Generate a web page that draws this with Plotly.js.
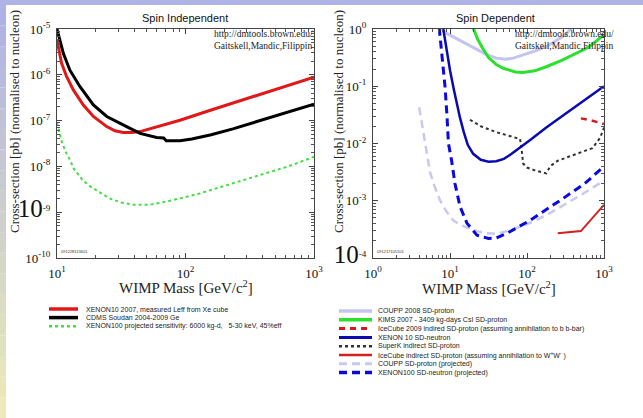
<!DOCTYPE html>
<html><head><meta charset="utf-8">
<script src="https://cdn.plot.ly/plotly-3.0.1.min.js"></script>
<style>html,body{margin:0;padding:0;background:#fff;}#chart{width:643px;height:418px;}</style>
</head><body><div id="chart"></div>
<script>
// ---------- Spin Independent (mass GeV, cross-section pb) ----------
const siXenon10Mass  = [10, 10.86, 11.89, 13.4, 16.03, 19.19, 24.38, 28.2, 32.8, 38.0, 44.3, 63.1, 90.6, 158.5, 316, 562, 1000];
const siXenon10Sigma = [5.75e-6, 1.78e-6, 9.1e-7, 4.68e-7, 2.19e-7, 1.23e-7, 7.4e-8, 6.0e-8, 5.5e-8, 5.5e-8, 5.75e-8, 7.6e-8, 1.02e-7, 1.7e-7, 3.16e-7, 5.37e-7, 8.9e-7];
const siCdmsMass  = [10, 11.2, 12.6, 15.1, 19.2, 24.4, 34.8, 44.3, 59.7, 67.6, 70.8, 90.6, 112, 158.5, 234, 398, 631, 1000];
const siCdmsSigma = [1.0e-5, 2.95e-6, 1.26e-6, 5.5e-7, 2.19e-7, 1.23e-7, 7.4e-8, 5.25e-8, 4.27e-8, 4.17e-8, 3.63e-8, 3.63e-8, 3.98e-8, 4.9e-8, 6.6e-8, 1.05e-7, 1.55e-7, 2.29e-7];
const siXe100Mass  = [10, 10.86, 11.75, 12.6, 13.5, 15.85, 18.2, 21.4, 25.7, 31.6, 39.8, 52.5, 70.8, 100, 129, 234, 427, 631, 1000];
const siXe100Sigma = [8.9e-8, 3.55e-8, 2.0e-8, 1.41e-8, 8.9e-9, 5.0e-9, 3.63e-9, 2.69e-9, 2.0e-9, 1.62e-9, 1.45e-9, 1.45e-9, 1.7e-9, 2.14e-9, 2.57e-9, 4.27e-9, 7.1e-9, 1.0e-8, 1.62e-8];
const siNames = ["XENON10 2007, measured Leff from Xe cube", "CDMS Soudan 2004-2009 Ge", "XENON100 projected sensitivity: 6000 kg-d,   5-30 keV, 45%eff"];

// ---------- Spin Dependent ----------
const sdCouppMass  = [7.59, 8.91, 11.2, 13.5, 17.8, 22.4, 29.5, 39.8, 52.5, 66.1, 89.1, 126, 182, 251, 316, 380];
const sdCouppSigma = [1.05, 0.85, 0.72, 0.63, 0.50, 0.43, 0.36, 0.31, 0.295, 0.31, 0.35, 0.41, 0.50, 0.66, 0.79, 1.05];
const sdKimsMass  = [19.95, 22.9, 26.3, 31.6, 39.8, 50.1, 70.8, 89.1, 126, 178, 282, 447, 631, 1000];
const sdKimsSigma = [1.05, 0.66, 0.47, 0.316, 0.24, 0.204, 0.178, 0.174, 0.186, 0.219, 0.282, 0.38, 0.48, 0.79];
const sdIce09Mass  = [501, 708, 1000];
const sdIce09Sigma = [0.0275, 0.025, 0.0219];
const sdXe10Mass  = [8.13, 9.12, 10, 11.2, 12.3, 13.5, 15.1, 17.0, 20.0, 25.1, 31.6, 39.8, 50.1, 63.1, 110, 178, 316, 562, 1000];
const sdXe10Sigma = [1.05, 0.40, 0.19, 0.089, 0.048, 0.028, 0.0158, 0.0095, 0.0066, 0.0052, 0.0048, 0.0049, 0.0054, 0.0066, 0.0115, 0.019, 0.033, 0.0575, 0.10];
const sdSuperKMass  = [18.2, 25.1, 39.8, 66.1, 81.3, 85.1, 89.1, 100, 126, 178, 200, 251, 316, 501, 708, 891, 1000];
const sdSuperKSigma = [0.026, 0.020, 0.0158, 0.0132, 0.012, 0.0079, 0.00447, 0.0038, 0.0034, 0.0030, 0.0040, 0.0050, 0.0056, 0.0068, 0.0083, 0.0126, 0.019];
const sdIceWWMass  = [251, 501, 1000];
const sdIceWWSigma = [2.7e-4, 2.95e-4, 8.5e-4];
const sdCouppProjMass  = [3.98, 4.37, 4.73, 5.5, 6.31, 7.41, 8.91, 11.0, 13.5, 16.6, 22.4, 30.2, 39.8, 66.1, 112, 178, 316, 501, 1000];
const sdCouppProjSigma = [0.0427, 0.020, 0.010, 0.00316, 0.00178, 0.00102, 6.6e-4, 4.57e-4, 3.8e-4, 3.4e-4, 2.95e-4, 2.7e-4, 2.63e-4, 3.16e-4, 4.17e-4, 5.6e-4, 8.7e-4, 1.26e-3, 2.24e-3];
const sdXe100Mass  = [7.24, 7.94, 8.61, 9.12, 9.55, 10.5, 11.6, 13.5, 16.6, 22.4, 31.6, 39.8, 55, 110, 178, 295, 562, 1000];
const sdXe100Sigma = [1.05, 0.316, 0.1, 0.0316, 0.01, 0.005, 0.002, 7.9e-4, 4.07e-4, 2.5e-4, 2.19e-4, 2.24e-4, 2.7e-4, 4.57e-4, 6.9e-4, 1.1e-3, 2.0e-3, 3.98e-3];
const sdNames = ["COUPP 2008 SD-proton", "KIMS 2007 - 3409 kg-days CsI SD-proton", "IceCube 2009 indired SD-proton (assuming annihilation to b b-bar)", "XENON 10 SD-neutron", "SuperK indirect SD-proton", "IceCube indirect SD-proton (assuming annihilation to W<sup>+</sup>W<sup>-</sup> )", "COUPP SD-proton (projected)", "XENON100 SD-neutron (projected)"];

// tick labels
const siXTicks = [10, 100, 1000];
const siXText = ["10<sup>1</sup>", "10<sup>2</sup>", "10<sup>3</sup>"];
const siYTicks = [1e-10, 1e-9, 1e-8, 1e-7, 1e-6, 1e-5];
const siYText = ["10<sup>-10</sup>", "<span style='font-size:25px'>10</span><sup>-9</sup>", "10<sup>-8</sup>", "10<sup>-7</sup>", "10<sup>-6</sup>", "10<sup>-5</sup>"];
const sdXTicks = [1, 10, 100, 1000];
const sdXText = ["10<sup>0</sup>", "10<sup>1</sup>", "10<sup>2</sup>", "10<sup>3</sup>"];
const sdYTicks = [1e-4, 1e-3, 1e-2, 1e-1, 1];
const sdYText = ["<span style='font-size:25px'>10</span><sup>-4</sup>", "10<sup>-3</sup>", "10<sup>-2</sup>", "10<sup>-1</sup>", "10<sup>0</sup>"];

// ---------- layout helpers ----------
const W = 643, H = 418;
const px = v => v / W, py = v => 1 - v / H;
function minorVals(lo, hi) { const a = []; for (let e = lo; e < hi; e++) for (let k = 2; k <= 9; k++) a.push(k * Math.pow(10, e)); return a; }
const serif = "Liberation Serif, Times New Roman, serif";
const sans = "Liberation Sans, Arial, sans-serif";

const siStyles = [
  {color: "#e01818", width: 3, dash: "solid"},
  {color: "#000000", width: 3, dash: "solid"},
  {color: "#44dd44", width: 2, dash: "dot"}
];
const sdStyles = [
  {color: "#c4c4ee", width: 3, dash: "solid"},
  {color: "#2ee02e", width: 3, dash: "solid"},
  {color: "#d41a1a", width: 2.5, dash: "6px,5px"},
  {color: "#0a0ab0", width: 2.5, dash: "solid"},
  {color: "#333333", width: 2, dash: "dot"},
  {color: "#d42020", width: 2, dash: "solid"},
  {color: "#c8c8f0", width: 2.5, dash: "8px,5px"},
  {color: "#0a0ae0", width: 3, dash: "8px,5px"}
];

const siData = [[siXenon10Mass, siXenon10Sigma], [siCdmsMass, siCdmsSigma], [siXe100Mass, siXe100Sigma]];
const sdData = [[sdCouppMass, sdCouppSigma], [sdKimsMass, sdKimsSigma], [sdIce09Mass, sdIce09Sigma], [sdXe10Mass, sdXe10Sigma],
                [sdSuperKMass, sdSuperKSigma], [sdIceWWMass, sdIceWWSigma], [sdCouppProjMass, sdCouppProjSigma], [sdXe100Mass, sdXe100Sigma]];
const sdDrawOrder = [6, 0, 1, 2, 4, 5, 3, 7];

const traces = [];
siData.forEach((d, i) => traces.push({x: d[0], y: d[1], xaxis: "x", yaxis: "y", mode: "lines", name: siNames[i],
  line: {color: siStyles[i].color, width: siStyles[i].width, dash: siStyles[i].dash}, showlegend: false, hoverinfo: "skip"}));
sdDrawOrder.forEach(i => traces.push({x: sdData[i][0], y: sdData[i][1], xaxis: "x2", yaxis: "y2", mode: "lines", name: sdNames[i],
  line: {color: sdStyles[i].color, width: sdStyles[i].width, dash: sdStyles[i].dash}, showlegend: false, hoverinfo: "skip"}));

function axis(domain, range, tv, tt, minor, anchor) {
  return {type: "log", domain: domain, range: range, anchor: anchor, tickmode: "array", tickvals: tv, ticktext: tt,
    showline: true, linecolor: "#444", linewidth: 1, mirror: "ticks", ticks: "inside", ticklen: 5, tickcolor: "#444",
    showgrid: false, zeroline: false, tickfont: {family: serif, size: 13, color: "#111"}, ticklabelstandoff: 3,
    minor: {ticks: "inside", ticklen: 3, tickcolor: "#555", tickmode: "array", tickvals: minor, showgrid: false}};
}

const yDom = [py(258), py(29)];
const layout = {
  width: W, height: H, margin: {l: 0, r: 0, t: 0, b: 0}, paper_bgcolor: "#ffffff", plot_bgcolor: "#ffffff", showlegend: false,
  xaxis: axis([px(57), px(314)], [1, 3], siXTicks, siXText, minorVals(1, 3), "y"),
  yaxis: axis(yDom, [-10, -5], siYTicks, siYText, minorVals(-10, -5), "x"),
  xaxis2: axis([px(373), px(604)], [0, 3], sdXTicks, sdXText, minorVals(0, 3), "y2"),
  yaxis2: axis(yDom, [-4, 0], sdYTicks, sdYText, minorVals(-4, 0), "x2"),
  shapes: [], annotations: []
};

// slide background bits
layout.shapes.push({type: "rect", xref: "paper", yref: "paper", x0: 0, x1: 1, y0: py(5), y1: 1, fillcolor: "#aeb2e4", line: {width: 0}, layer: "below"});
const bands = 20;
for (let b = 0; b < bands; b++) {
  const t = b / (bands - 1);
  const r = Math.round(174 + t * (236 - 174)), g = Math.round(178 + t * (234 - 178)), bl = Math.round(228 + t * (184 - 228));
  layout.shapes.push({type: "rect", xref: "paper", yref: "paper", x0: 0, x1: px(6), y0: py(5 + (b + 1) * (413 / bands)), y1: py(5 + b * (413 / bands)),
    fillcolor: `rgb(${r},${g},${bl})`, line: {width: 0}, layer: "below"});
}

// titles and credits
function ann(o) { layout.annotations.push(Object.assign({xref: "paper", yref: "paper", showarrow: false, xanchor: "center", yanchor: "middle"}, o)); }
ann({text: "Spin Independent", x: px(185), y: py(18), font: {family: sans, size: 11, color: "#111"}});
ann({text: "Spin Dependent", x: px(495), y: py(18), font: {family: sans, size: 11, color: "#111"}});
const ytitle = "Cross-section [pb] (normalised to nucleon)";
const xtitle = "WIMP Mass [GeV/c<sup>2</sup>]";
ann({text: ytitle, x: px(14), y: py(122), textangle: -90, font: {family: serif, size: 13, color: "#222"}});
ann({text: ytitle, x: px(338), y: py(122), textangle: -90, font: {family: serif, size: 13, color: "#222"}});
ann({text: xtitle, x: px(186), y: py(287), font: {family: serif, size: 15, color: "#222"}});
ann({text: xtitle, x: px(489), y: py(288), font: {family: serif, size: 15, color: "#222"}});
[212, 513].forEach(x0 => {
  ann({text: "http://dmtools.brown.edu/<br>Gaitskell,Mandic,Filippin", x: px(x0), y: py(27),
    xanchor: "left", yanchor: "top", align: "left", font: {family: serif, size: 9.5, color: "#222"}});
});
ann({text: "091228113601", x: px(59), y: py(256), xanchor: "left", yanchor: "bottom", font: {family: sans, size: 4, color: "#333"}});
ann({text: "091217105101", x: px(375), y: py(256), xanchor: "left", yanchor: "bottom", font: {family: sans, size: 4, color: "#333"}});

// manual legends
function legendRow(name, st, x0, x1, xt, y) {
  layout.shapes.push({type: "line", xref: "paper", yref: "paper", x0: px(x0), x1: px(x1), y0: py(y), y1: py(y),
    line: {color: st.color, width: st.width + 0.5, dash: st.dash}});
  ann({text: name, x: px(xt), y: py(y), xanchor: "left", font: {family: sans, size: 7, color: "#222"}});
}
siNames.forEach((n, i) => legendRow(n, siStyles[i], 49, 78, 84, 309 + i * 8.6));
sdNames.forEach((n, i) => legendRow(n, sdStyles[i], 339, 372, 376, 311 + i * 8.8));

Plotly.newPlot("chart", traces, layout, {staticPlot: true, displayModeBar: false});
</script></body></html>
